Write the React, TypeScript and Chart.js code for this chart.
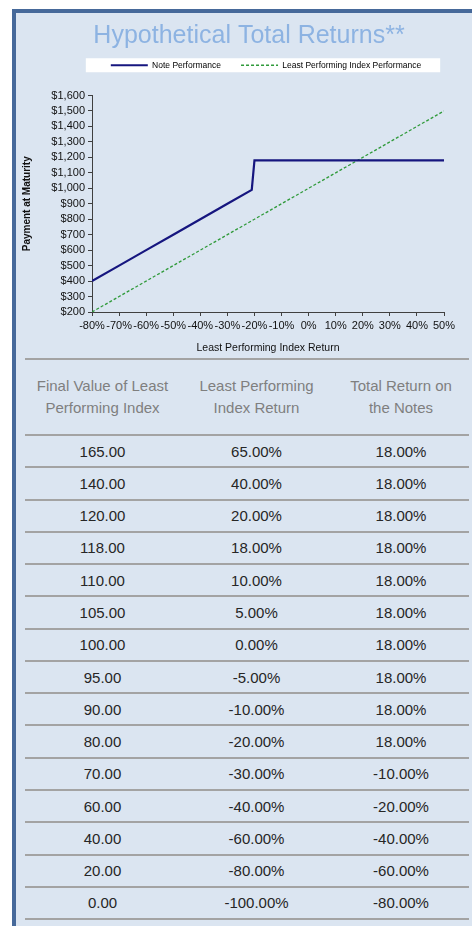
import React, { useEffect, useRef } from 'react';
import { Chart, registerables } from 'chart.js';

Chart.register(...registerables);

const chartTitle = 'Hypothetical Total Returns**';
const xAxisTitle = 'Least Performing Index Return';
const yAxisTitle = 'Payment at Maturity';
const noteLabel = 'Note Performance';
const indexLabel = 'Least Performing Index Performance';

// Chart series (x = least performing index return in %, y = payment at maturity in $)
const noteReturnX = [-80, -70, -60, -50, -40, -30, -21, -20, -10, 0, 10, 20, 30, 40, 50];
const notePayment = [400, 500, 600, 700, 800, 900, 990, 1180, 1180, 1180, 1180, 1180, 1180, 1180, 1180];
const indexReturnX = [-80, -70, -60, -50, -40, -30, -20, -10, 0, 10, 20, 30, 40, 50];
const indexPayment = [200, 300, 400, 500, 600, 700, 800, 900, 1000, 1100, 1200, 1300, 1400, 1500];

// Table
const headers = [
  ['Final Value of Least', 'Performing Index'],
  ['Least Performing', 'Index Return'],
  ['Total Return on', 'the Notes'],
];
const finalValues = ['165.00', '140.00', '120.00', '118.00', '110.00', '105.00', '100.00', '95.00', '90.00', '80.00', '70.00', '60.00', '40.00', '20.00', '0.00'];
const indexReturns = ['65.00%', '40.00%', '20.00%', '18.00%', '10.00%', '5.00%', '0.00%', '-5.00%', '-10.00%', '-20.00%', '-30.00%', '-40.00%', '-60.00%', '-80.00%', '-100.00%'];
const noteReturns = ['18.00%', '18.00%', '18.00%', '18.00%', '18.00%', '18.00%', '18.00%', '18.00%', '18.00%', '18.00%', '-10.00%', '-20.00%', '-40.00%', '-60.00%', '-80.00%'];

const FONT = '"Liberation Sans", Arial, sans-serif';
const CHART_FONT = '"Liberation Sans", Arial, sans-serif';

const layoutTweaks = {
  id: 'layoutTweaks',
  beforeUpdate(chart: any) {
    const lg = chart.legend;
    if (lg && !lg.__patched) {
      const origFit = lg.fit;
      lg.fit = function (this: any) {
        origFit.call(this);
        this.height += 16;
      };
      lg.__patched = true;
    }
  },
  afterLayout(chart: any) {
    const tb = chart.titleBlock;
    if (tb) tb.right += 38;
    const lg = chart.legend;
    if (lg) lg.right += 72;
  },
  beforeDraw(chart: any) {
    const lg = chart.legend;
    if (!lg || !lg.legendHitBoxes || !lg.legendHitBoxes.length) return;
    const hb = lg.legendHitBoxes;
    const l = Math.min(...hb.map((h: any) => h.left));
    const r = Math.max(...hb.map((h: any) => h.left + h.width));
    const t = Math.min(...hb.map((h: any) => h.top));
    const b = Math.max(...hb.map((h: any) => h.top + h.height));
    const ctx = chart.ctx;
    ctx.save();
    ctx.fillStyle = '#ffffff';
    const cy = (t + b) / 2;
    ctx.fillRect(l - 25, cy - 7, r - l + 44, 14);
    ctx.restore();
  },
};

const colX = [25, 180, 333, 469];
const headTop = 359;
const headBottom = 435;
const rowH = 32.27;

export default function App() {
  const ref = useRef<HTMLCanvasElement>(null);

  useEffect(() => {
    const chart = new Chart(ref.current as HTMLCanvasElement, {
      type: 'line',
      data: {
        datasets: [
          {
            label: noteLabel,
            data: noteReturnX.map((x, i) => ({ x, y: notePayment[i] })),
            borderColor: '#16167f',
            backgroundColor: '#16167f',
            borderWidth: 2.2,
            pointRadius: 0,
            tension: 0,
          },
          {
            label: indexLabel,
            data: indexReturnX.map((x, i) => ({ x, y: indexPayment[i] })),
            borderColor: '#2f9a3a',
            backgroundColor: '#2f9a3a',
            borderWidth: 1.3,
            borderDash: [3, 2],
            pointRadius: 0,
            tension: 0,
          },
        ],
      },
      options: {
        responsive: false,
        animation: false,
        layout: { padding: { left: 0, right: 28, top: 0, bottom: 0 } },
        plugins: {
          title: {
            display: true,
            text: chartTitle,
            color: '#8db3e2',
            font: { family: FONT, size: 25, weight: 'normal' },
            padding: { top: 8, bottom: -10 },
          },
          legend: {
            display: true,
            labels: {
              usePointStyle: true,
              pointStyle: 'line',
              pointStyleWidth: 37,
              boxHeight: 8,
              padding: 20,
              color: '#000000',
              font: { family: CHART_FONT, size: 8.5 },
              generateLabels: (chart: any) => {
                const items = (Chart as any).defaults.plugins.legend.labels.generateLabels(chart);
                items.forEach((it: any) => {
                  const ds = chart.data.datasets[it.datasetIndex];
                  it.lineDash = ds.borderDash || [];
                  it.lineWidth = ds.borderWidth;
                  it.strokeStyle = ds.borderColor;
                  it.pointStyle = 'line';
                });
                return items;
              },
            },
          },
          tooltip: { enabled: false },
        },
        scales: {
          x: {
            type: 'linear',
            min: -80,
            max: 50,
            border: { color: '#404040', width: 1 },
            grid: { drawOnChartArea: false, tickLength: 4, color: '#404040' },
            ticks: {
              stepSize: 10,
              autoSkip: false,
              maxRotation: 0,
              padding: 3,
              color: '#111111',
              font: { family: CHART_FONT, size: 11 },
              callback: (v: any) => v + '%',
            },
            title: {
              display: true,
              text: xAxisTitle,
              color: '#111111',
              font: { family: CHART_FONT, size: 10.5 },
              padding: { top: 4, bottom: 2 },
            },
            afterFit: (s: any) => {
              s.height = 44;
            },
          },
          y: {
            min: 200,
            max: 1600,
            border: { color: '#404040', width: 1 },
            grid: { drawOnChartArea: false, tickLength: 4, color: '#404040' },
            ticks: {
              stepSize: 100,
              autoSkip: false,
              padding: 3,
              color: '#111111',
              font: { family: CHART_FONT, size: 11 },
              callback: (v: any) => '$' + Number(v).toLocaleString('en-US'),
            },
            title: {
              display: true,
              text: yAxisTitle,
              color: '#111111',
              font: { family: CHART_FONT, size: 10, weight: 'bold' },
              padding: { top: 5, bottom: 0 },
            },
            afterFit: (s: any) => {
              s.width = 76;
            },
          },
        },
      },
      plugins: [layoutTweaks],
    } as any);
    return () => chart.destroy();
  }, []);

  const rules: number[] = [headTop, headBottom];
  for (let k = 1; k <= finalValues.length; k++) rules.push(headBottom + k * rowH);

  const cols = [finalValues, indexReturns, noteReturns];

  return (
    <div style={{ position: 'absolute', left: 0, top: 0, width: 472, height: 926, background: '#ffffff', overflow: 'hidden', fontFamily: FONT }}>
      <div
        style={{
          position: 'absolute',
          left: 12,
          top: 9,
          width: 460,
          height: 917,
          background: '#dbe5f1',
          borderLeft: '4px solid #46699a',
          borderTop: '4px solid #46699a',
          boxSizing: 'border-box',
        }}
      />
      <canvas ref={ref} width={456} height={343} style={{ position: 'absolute', left: 16, top: 13, width: 456, height: 343 }} />
      {rules.map((y, i) => (
        <div key={'r' + i} style={{ position: 'absolute', left: 25, top: Math.round(y) - 1, width: 444, height: 2, background: '#a3a3a3' }} />
      ))}
      {headers.map((lines, c) => (
        <div
          key={'h' + c}
          style={{
            position: 'absolute',
            left: colX[c],
            width: colX[c + 1] - colX[c],
            top: headTop,
            height: headBottom - headTop,
            display: 'flex',
            flexDirection: 'column',
            justifyContent: 'center',
            alignItems: 'center',
            color: '#7f7f7f',
            fontSize: 15,
            lineHeight: '22px',
            textAlign: 'center',
          }}
        >
          {lines.map((t, j) => (
            <div key={j}>{t}</div>
          ))}
        </div>
      ))}
      {finalValues.map((_, r) =>
        cols.map((col, c) => (
          <div
            key={'c' + r + '-' + c}
            style={{
              position: 'absolute',
              left: colX[c],
              width: colX[c + 1] - colX[c],
              top: headBottom + r * rowH,
              height: rowH,
              display: 'flex',
              alignItems: 'center',
              justifyContent: 'center',
              color: '#262626',
              fontSize: 15,
            }}
          >
            {col[r]}
          </div>
        ))
      )}
    </div>
  );
}
